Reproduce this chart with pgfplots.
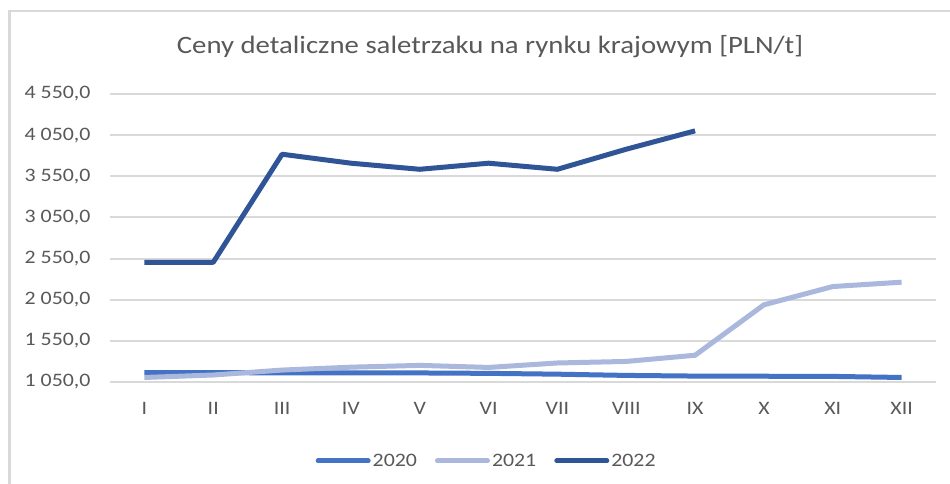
\documentclass[border=0pt]{standalone}
\usepackage{pgfplots}
\pgfplotsset{compat=1.18}
\usepackage{fontspec}
\setmainfont{Carlito}[FakeStretch=1.15]
\definecolor{c2020}{HTML}{4472C4}
\definecolor{c2021}{HTML}{A9B8DC}
\definecolor{c2022}{HTML}{2F5597}
\definecolor{gridc}{HTML}{D9D9D9}
\definecolor{txt}{HTML}{595959}
\begin{document}
\begin{tikzpicture}[x=1pt,y=1pt]
\path[use as bounding box] (0,0) rectangle (950,484);
\fill[white] (0,0) rectangle (950,484);
\draw[gridc,line width=2.5pt] (9.5,0) -- (9.5,473) -- (950,473);
\node[txt,font=\fontsize{25}{28}\selectfont] at (490,437) {Ceny detaliczne saletrzaku na rynku krajowym [PLN/t]};
\begin{axis}[
  at={(110pt,102pt)}, anchor=south west,
  scale only axis, width=826pt, height=288pt,
  xmin=-0.5, xmax=11.5, ymin=1050, ymax=4550,
  axis line style={draw=none},
  major tick length=0pt,
  xtick={0,...,11},
  xticklabels={I,II,III,IV,V,VI,VII,VIII,IX,X,XI,XII},
  ytick={1050,1550,2050,2550,3050,3550,4050,4550},
  yticklabels={1 050{,}0,1 550{,}0,2 050{,}0,2 550{,}0,3 050{,}0,3 550{,}0,4 050{,}0,4 550{,}0},
  ymajorgrids, grid style={gridc,line width=2pt},
  tick label style={txt,font=\fontsize{19}{22}\selectfont},
  xticklabel style={yshift=-17pt},
  yticklabel style={xshift=-16pt},
  legend style={at={(0.456,-0.274)},anchor=center,draw=none,fill=none,
    font=\fontsize{19}{22}\selectfont,text=txt,legend columns=3,
    /tikz/every even column/.append style={column sep=16pt}},
  legend image code/.code={\draw[#1,line cap=round] (0pt,0pt) -- (50pt,0pt);},
  every axis plot/.append style={line width=5pt,line join=round},
]
\addplot[c2020] coordinates {(0,1165)(1,1165)(2,1160)(3,1160)(4,1160)(5,1155)(6,1145)(7,1130)(8,1122)(9,1120)(10,1118)(11,1105)};
\addlegendentry{2020}
\addplot[c2021] coordinates {(0,1105)(1,1135)(2,1195)(3,1230)(4,1252)(5,1227)(6,1281)(7,1300)(8,1375)(9,1988)(10,2210)(11,2263)};
\addlegendentry{2021}
\addplot[c2022] coordinates {(0,2505)(1,2505)(2,3818)(3,3709)(4,3635)(5,3709)(6,3635)(7,3879)(8,4102)};
\addlegendentry{2022}
\end{axis}
\end{tikzpicture}
\end{document}
